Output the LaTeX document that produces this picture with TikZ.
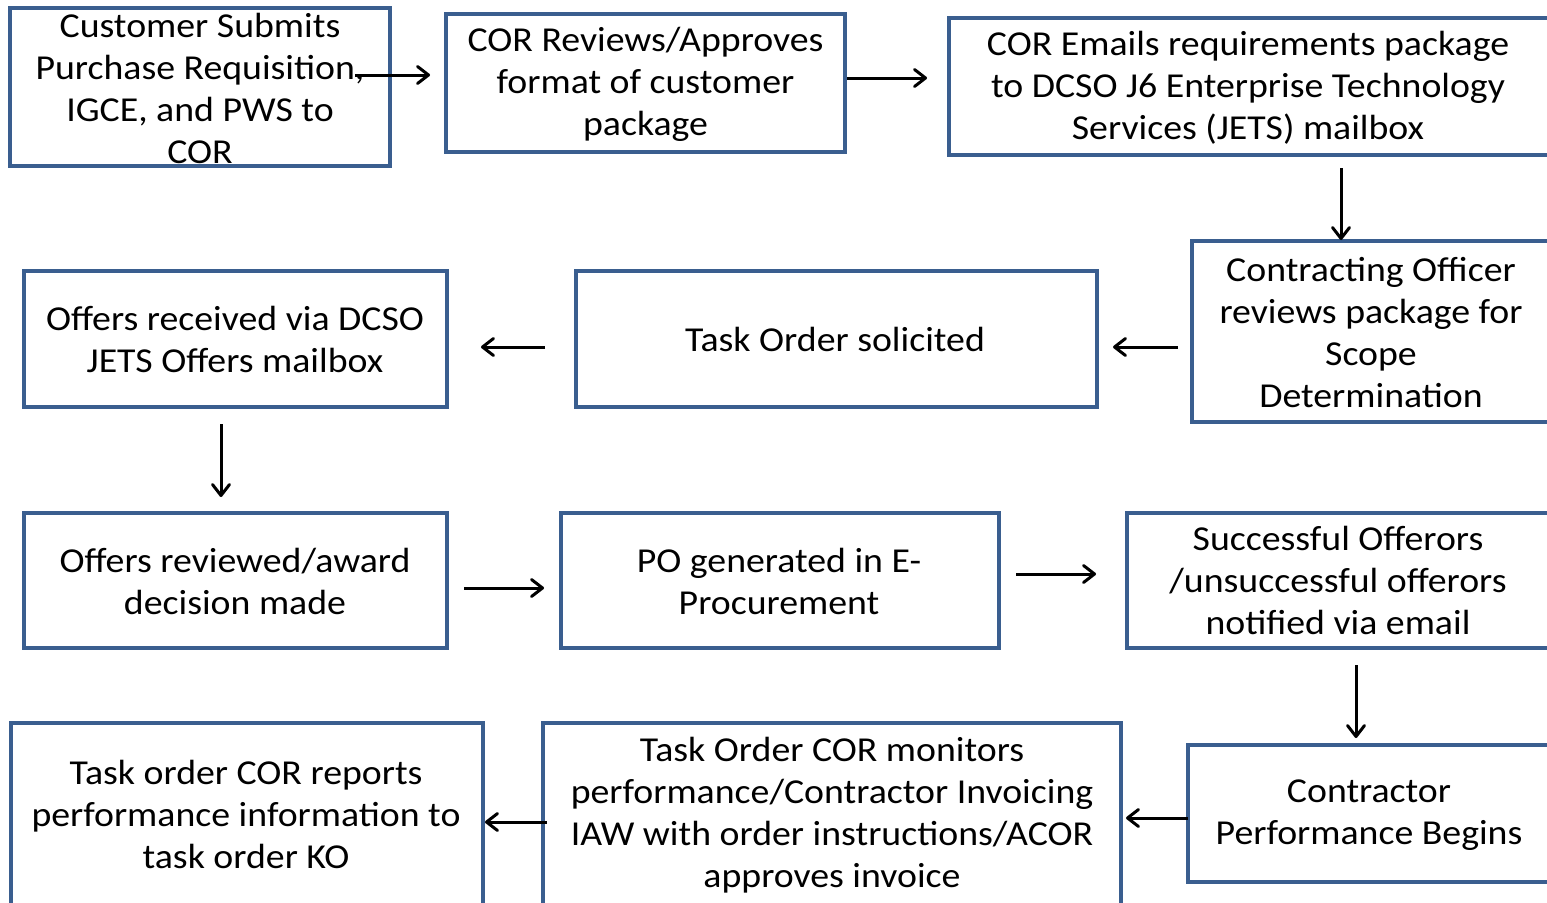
\documentclass[tikz,border=0pt]{standalone}
\usepackage{fontspec}
\setmainfont{Carlito}[FakeStretch=1.08]
\usetikzlibrary{arrows.meta,calc}
\definecolor{boxblue}{HTML}{3A5E8F}
\tikzset{
  box/.style={draw=boxblue, line width=4pt, inner sep=0pt, outer sep=0pt, fill=white},
  txt/.style={align=center, inner sep=0pt, font=\fontsize{35}{42}\selectfont},
  arr/.style={-{Straight Barb[length=11pt,width=17pt,line join=round,line cap=round]}, line width=3pt, black}
}
\begin{document}
\begin{tikzpicture}[x=1pt,y=-1pt]
\useasboundingbox (0,0) rectangle (1547,902);
\clip (0,0) rectangle (1547,902);
% boxes
\node[box, minimum width=380, minimum height=158] (b1) at (200,87) {};
\node[box, minimum width=399, minimum height=138] (b2) at (645.5,83) {};
\node[box, minimum width=600, minimum height=137] (b3) at (1249,86.5) {};
\node[box, minimum width=358, minimum height=181] (b4) at (1371,331.5) {};
\node[box, minimum width=521, minimum height=136] (b5) at (836.5,339) {};
\node[box, minimum width=423, minimum height=136] (b6) at (235.5,339) {};
\node[box, minimum width=423, minimum height=135] (b7) at (235.5,580.5) {};
\node[box, minimum width=438, minimum height=135] (b8) at (780,580.5) {};
\node[box, minimum width=422, minimum height=135] (b9) at (1338,580.5) {};
\node[box, minimum width=362, minimum height=137] (b10) at (1369,813.5) {};
\node[box, minimum width=578, minimum height=184] (b11) at (832,815) {};
\node[box, minimum width=472, minimum height=182] (b12) at (247,814) {};
% texts
\node[txt] (t1) at (200,88) {Customer Submits\\Purchase Requisition,\\IGCE, and PWS to\\COR};
\node[txt] (t2) at (645.5,84) {COR Reviews/Approves\\format of customer\\package};
\node[txt] (t3) at (1248,88) {COR Emails requirements package\\to DCSO J6 Enterprise Technology\\Services (JETS) mailbox};
\node[txt] (t4) at (1371,333) {Contracting Officer\\reviews package for\\Scope\\Determination};
\node[txt] (t5) at (835,339) {Task Order solicited};
\node[txt] (t6) at (235,339.5) {Offers received via DCSO\\JETS Offers mailbox};
\node[txt] (t7) at (235,581) {Offers reviewed/award\\decision made};
\node[txt] (t8) at (779,581) {PO generated in E-\\Procurement};
\node[txt] (t9) at (1338,580) {Successful Offerors\\/unsuccessful offerors\\notified via email};
\node[txt] (t10) at (1369,815) {Contractor\\Performance Begins};
\node[txt] (t11) at (832,815) {Task Order COR monitors\\performance/Contractor Invoicing\\IAW with order instructions/ACOR\\approves invoice};
\node[txt] (t12) at (246,814) {Task order COR reports\\performance information to\\task order KO};
% arrows
\draw[arr] ($(b1.east)+(-35,-12)$) -- ($(b2.west)+(-16,-8)$);
\draw[arr] ($(b2.east)+(2,-5)$) -- ($(b3.west)+(-22,-8.5)$);
\draw[arr] ($(b3.south)+(92,13)$) -- ($(b4.north)+(-30,-1)$);
\draw[arr] ($(b4.west)+(-14,15.5)$) -- ($(b5.east)+(16,8)$);
\draw[arr] ($(b5.west)+(-31,8)$) -- ($(b6.east)+(34,8)$);
\draw[arr] ($(b6.south)+(-14.5,17)$) -- ($(b7.north)+(-14.5,-16)$);
\draw[arr] ($(b7.east)+(17,7.5)$) -- ($(b8.west)+(-17,7.5)$);
\draw[arr] ($(b8.east)+(17,-6.5)$) -- ($(b9.west)+(-31,-6.5)$);
\draw[arr] ($(b9.south)+(18,17)$) -- ($(b10.north)+(-13,-7)$);
\draw[arr] ($(b10.west)+(0,4.5)$) -- ($(b11.east)+(5,3)$);
\draw[arr] ($(b11.west)+(4,7)$) -- ($(b12.east)+(2,8)$);
\end{tikzpicture}
\end{document}
